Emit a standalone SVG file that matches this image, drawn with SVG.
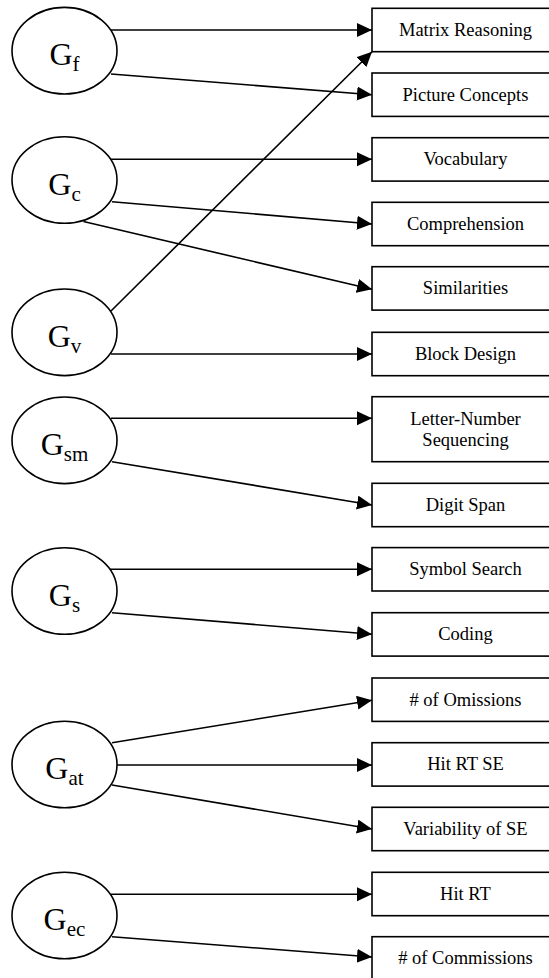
<svg xmlns="http://www.w3.org/2000/svg" width="549" height="978" viewBox="0 0 549 978">
<style>
  .box { fill: #fff; stroke: #000; stroke-width: 1.6; }
  .ell { fill: #fff; stroke: #000; stroke-width: 1.6; }
  .bt { font-family: "Liberation Serif", "Times New Roman", serif; font-size: 18.5px; fill: #000; text-anchor: middle; }
  .gt { font-family: "Liberation Serif", "Times New Roman", serif; font-size: 32px; fill: #000; text-anchor: middle; }
  .sub { font-size: 21px; }
  .edge { stroke: #000; stroke-width: 1.6; fill: none; marker-end: url(#arr); }
</style>
<defs>
  <marker id="arr" markerUnits="userSpaceOnUse" markerWidth="16" markerHeight="15" refX="15" refY="7" orient="auto" viewBox="0 0 16 15">
    <path d="M0,0 L15,7 L0,14 z" fill="#000"/>
  </marker>
</defs>
<rect width="549" height="978" fill="#fff"/>

<g id="connectors">
  <line class="edge" x1="111" y1="30" x2="372" y2="30"/>
  <line class="edge" x1="111" y1="74" x2="372" y2="94.7"/>
  <line class="edge" x1="111" y1="159.3" x2="372" y2="159.3"/>
  <line class="edge" x1="112" y1="201.7" x2="372" y2="224"/>
  <line class="edge" x1="83.5" y1="221.5" x2="372" y2="289.3"/>
  <line class="edge" x1="111" y1="311" x2="372" y2="51.7"/>
  <line class="edge" x1="111" y1="354" x2="372" y2="354"/>
  <line class="edge" x1="111" y1="418.3" x2="372" y2="418.3"/>
  <line class="edge" x1="112" y1="461.7" x2="372" y2="505"/>
  <line class="edge" x1="110" y1="569.3" x2="372" y2="569.3"/>
  <line class="edge" x1="112" y1="612.7" x2="372" y2="634.3"/>
  <line class="edge" x1="112" y1="742.7" x2="372" y2="700.3"/>
  <line class="edge" x1="112" y1="765" x2="372" y2="765"/>
  <line class="edge" x1="112" y1="785" x2="372" y2="829"/>
  <line class="edge" x1="111" y1="894.3" x2="372" y2="894.3"/>
  <line class="edge" x1="112" y1="936.7" x2="372" y2="957"/>
</g>

<g id="Gf"><ellipse class="ell" cx="64.5" cy="50.7" rx="52.5" ry="43.3"/><text class="gt" x="64.5" y="65">G<tspan class="sub" dy="6">f</tspan></text></g>
<g id="Gc"><ellipse class="ell" cx="64.5" cy="180" rx="52.5" ry="43.3"/><text class="gt" x="64.5" y="195">G<tspan class="sub" dy="6">c</tspan></text></g>
<g id="Gv"><ellipse class="ell" cx="64.5" cy="332.3" rx="52.5" ry="43.3"/><text class="gt" x="64.5" y="347">G<tspan class="sub" dy="6">v</tspan></text></g>
<g id="Gsm"><ellipse class="ell" cx="64.5" cy="440.3" rx="52.5" ry="43.3"/><text class="gt" x="64.5" y="455">G<tspan class="sub" dy="6">sm</tspan></text></g>
<g id="Gs"><ellipse class="ell" cx="64.5" cy="591" rx="52.5" ry="43.3"/><text class="gt" x="64.5" y="605.5">G<tspan class="sub" dy="6">s</tspan></text></g>
<g id="Gat"><ellipse class="ell" cx="64.5" cy="764.5" rx="52.5" ry="43.3"/><text class="gt" x="64.5" y="779">G<tspan class="sub" dy="6">at</tspan></text></g>
<g id="Gec"><ellipse class="ell" cx="64.5" cy="915.5" rx="52.5" ry="43.3"/><text class="gt" x="64.5" y="930">G<tspan class="sub" dy="6">ec</tspan></text></g>

<g id="matrix-reasoning"><rect class="box" x="372" y="8.3" width="190" height="43.4"/><text class="bt" x="465.5" y="36">Matrix Reasoning</text></g>
<g id="picture-concepts"><rect class="box" x="372" y="73" width="190" height="43.4"/><text class="bt" x="465.5" y="100.7">Picture Concepts</text></g>
<g id="vocabulary"><rect class="box" x="372" y="137.7" width="190" height="43.4"/><text class="bt" x="465.5" y="165.4">Vocabulary</text></g>
<g id="comprehension"><rect class="box" x="372" y="202.3" width="190" height="43.4"/><text class="bt" x="465.5" y="230">Comprehension</text></g>
<g id="similarities"><rect class="box" x="372" y="266.7" width="190" height="43.4"/><text class="bt" x="465.5" y="294.4">Similarities</text></g>
<g id="block-design"><rect class="box" x="372" y="332.3" width="190" height="43.4"/><text class="bt" x="465.5" y="360">Block Design</text></g>
<g id="letter-number"><rect class="box" x="372" y="396.7" width="190" height="65"/><text class="bt" x="465.5" y="424.5">Letter-Number</text><text class="bt" x="465.5" y="446">Sequencing</text></g>
<g id="digit-span"><rect class="box" x="372" y="483.3" width="190" height="43.4"/><text class="bt" x="465.5" y="511">Digit Span</text></g>
<g id="symbol-search"><rect class="box" x="372" y="547.6" width="190" height="43.4"/><text class="bt" x="465.5" y="575.3">Symbol Search</text></g>
<g id="coding"><rect class="box" x="372" y="612.7" width="190" height="43.4"/><text class="bt" x="465.5" y="640.4">Coding</text></g>
<g id="omissions"><rect class="box" x="372" y="678" width="190" height="43.4"/><text class="bt" x="465.5" y="705.7"># of Omissions</text></g>
<g id="hit-rt-se"><rect class="box" x="372" y="742.7" width="190" height="43.4"/><text class="bt" x="465.5" y="770.4">Hit RT SE</text></g>
<g id="variability"><rect class="box" x="372" y="807.3" width="190" height="43.4"/><text class="bt" x="465.5" y="835">Variability of SE</text></g>
<g id="hit-rt"><rect class="box" x="372" y="872.3" width="190" height="43.4"/><text class="bt" x="465.5" y="900">Hit RT</text></g>
<g id="commissions"><rect class="box" x="372" y="936.7" width="190" height="43.4"/><text class="bt" x="465.5" y="964.4"># of Commissions</text></g>
</svg>
